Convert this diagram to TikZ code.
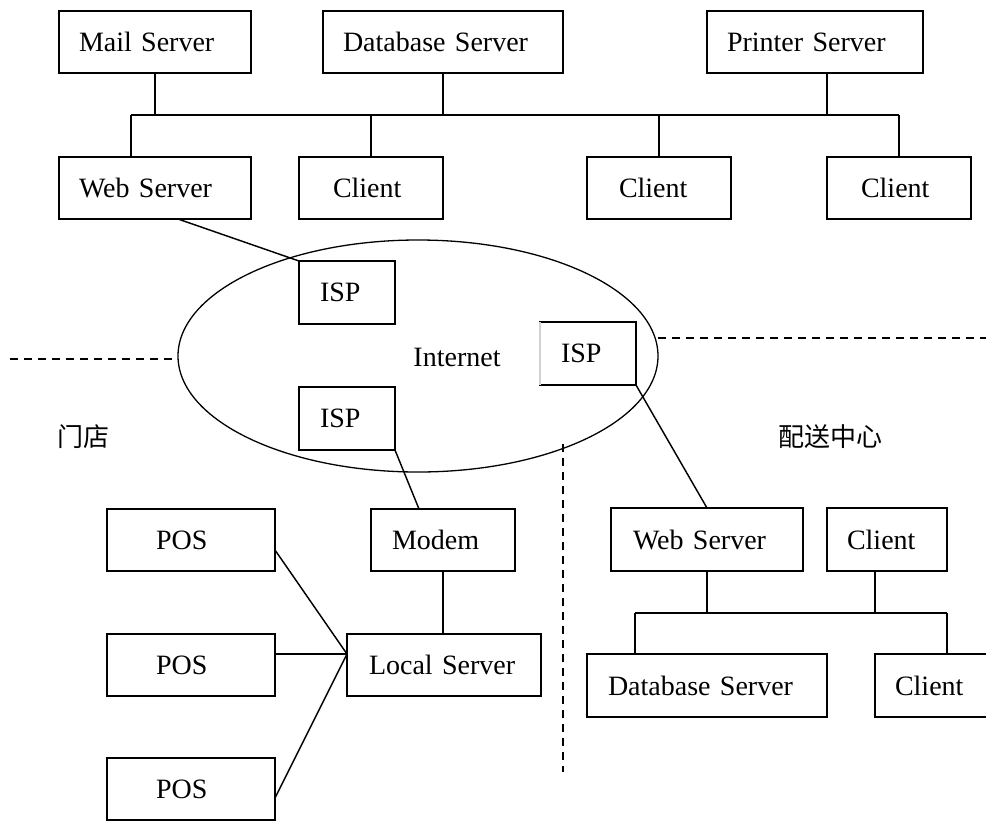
\documentclass[tikz,border=0pt]{standalone}
\usepackage{fontspec}
\setmainfont{Liberation Serif}
\newfontfamily\cjk{Noto Sans CJK SC}
\usetikzlibrary{shapes.geometric}
\newcommand\mybox[7]{%
  \pgfmathsetmacro\bxw{#4-#2}%
  \pgfmathsetmacro\bxh{#5-#3}%
  \pgfmathsetmacro\bxt{#4-#2-2*#6}%
  \node[box, minimum width=\bxw pt, minimum height=\bxh pt, text width=\bxt pt, inner xsep=#6pt] (#1) at ({(#2+#4)/2},{(#3+#5)/2}) {#7};}
\begin{document}
\begin{tikzpicture}[x=1pt,y=-1pt, line width=1.45pt,
  box/.style={draw, rectangle, align=left, inner ysep=0pt, outer sep=0pt, font=\fontsize{28}{30}\selectfont},
  dline/.style={line width=1.4pt, dash pattern=on 8pt off 6pt},
  lbl/.style={font=\fontsize{28}{30}\selectfont},
  cjklbl/.style={font=\cjk\fontsize{26}{28}\selectfont}]
\useasboundingbox (0,0) rectangle (986,823);
% top network
\mybox{mail}{59}{11}{251}{73}{20}{Mail Server}
\mybox{db}{323}{11}{563}{73}{20}{Database Server}
\mybox{printer}{707}{11}{923}{73}{20}{Printer Server}
\mybox{web}{59}{157}{251}{219}{20}{Web Server}
\mybox{c1}{299}{157}{443}{219}{34}{Client}
\mybox{c2}{587}{157}{731}{219}{32}{Client}
\mybox{c3}{827}{157}{971}{219}{34}{Client}
\coordinate (busL) at (131,115);
\coordinate (busR) at (899,115);
\draw (busL) -- (busR);
\draw (mail.south) -- (mail.south |- busL);
\draw (db.south) -- (db.south |- busL);
\draw ([xshift=12pt]printer.south) -- ([xshift=12pt]printer.south |- busL);
\draw (busL) -- (busL |- web.north);
\draw (c1.north) -- (c1.north |- busL);
\draw (c2.north) -- (c2.north |- busL);
\draw (busR) -- (busR |- c3.north);
% internet
\node[draw, ellipse, minimum width=480pt, minimum height=232pt, inner sep=0pt, line width=1.3pt] (inet) at (418,356) {};
\node[lbl] (inettext) at (457,357) {Internet};
\mybox{isp1}{299}{261}{395}{324}{21}{ISP}
\mybox{isp2}{540}{322}{636}{385}{21}{ISP}
\draw[gray!35, line width=1.5pt] (isp2.north west) -- (isp2.south west);
\mybox{isp3}{299}{387}{395}{450}{21}{ISP}
\draw ([xshift=23pt]web.south) -- (isp1.north west);
% dashed separators
\coordinate (dlW) at (10,359);
\coordinate (dlE) at (178,359);
\coordinate (drW) at (658,338);
\coordinate (drE) at (986,338);
\coordinate (dvT) at (563,444);
\coordinate (dvB) at (563,772);
\draw[dline] (dlW) -- (dlE);
\draw[dline] (drW) -- (drE);
\draw[dline] (dvT) -- (dvB);
\node[cjklbl] (store) at (83,437) {门店};
\node[cjklbl] (center) at (830,437) {配送中心};
% store network
\mybox{modem}{371}{509}{515}{571}{21}{Modem}
\mybox{local}{347}{634}{541}{696}{22}{Local Server}
\mybox{pos1}{107}{509}{275}{571}{49}{POS}
\mybox{pos2}{107}{634}{275}{696}{49}{POS}
\mybox{pos3}{107}{758}{275}{820}{49}{POS}
\draw (isp3.south east) -- ([xshift=-24pt]modem.north);
\draw (modem.south) -- (modem.south |- local.north);
\coordinate (conv) at ([yshift=11pt]local.west);
\draw ([yshift=-10pt]pos1.east) -- (conv);
\draw (pos2.east |- conv) -- (conv);
\draw ([yshift=-9pt]pos3.east) -- (conv);
% distribution center network
\mybox{web2}{611}{508}{803}{571}{22}{Web Server}
\mybox{cl2a}{827}{508}{947}{571}{20}{Client}
\mybox{db2}{587}{654}{827}{717}{21}{Database Server}
\mybox{cl2b}{875}{654}{1000}{717}{20}{Client}
\draw (isp2.south east) -- (web2.north);
\coordinate (bus2L) at (635,613);
\coordinate (bus2R) at (947,613);
\draw (bus2L) -- (bus2R);
\draw (web2.south) -- (web2.south |- bus2L);
\draw ([xshift=-12pt]cl2a.south) -- ([xshift=-12pt]cl2a.south |- bus2L);
\draw (bus2L) -- (bus2L |- db2.north);
\draw (bus2R) -- (bus2R |- cl2b.north);
\end{tikzpicture}
\end{document}
